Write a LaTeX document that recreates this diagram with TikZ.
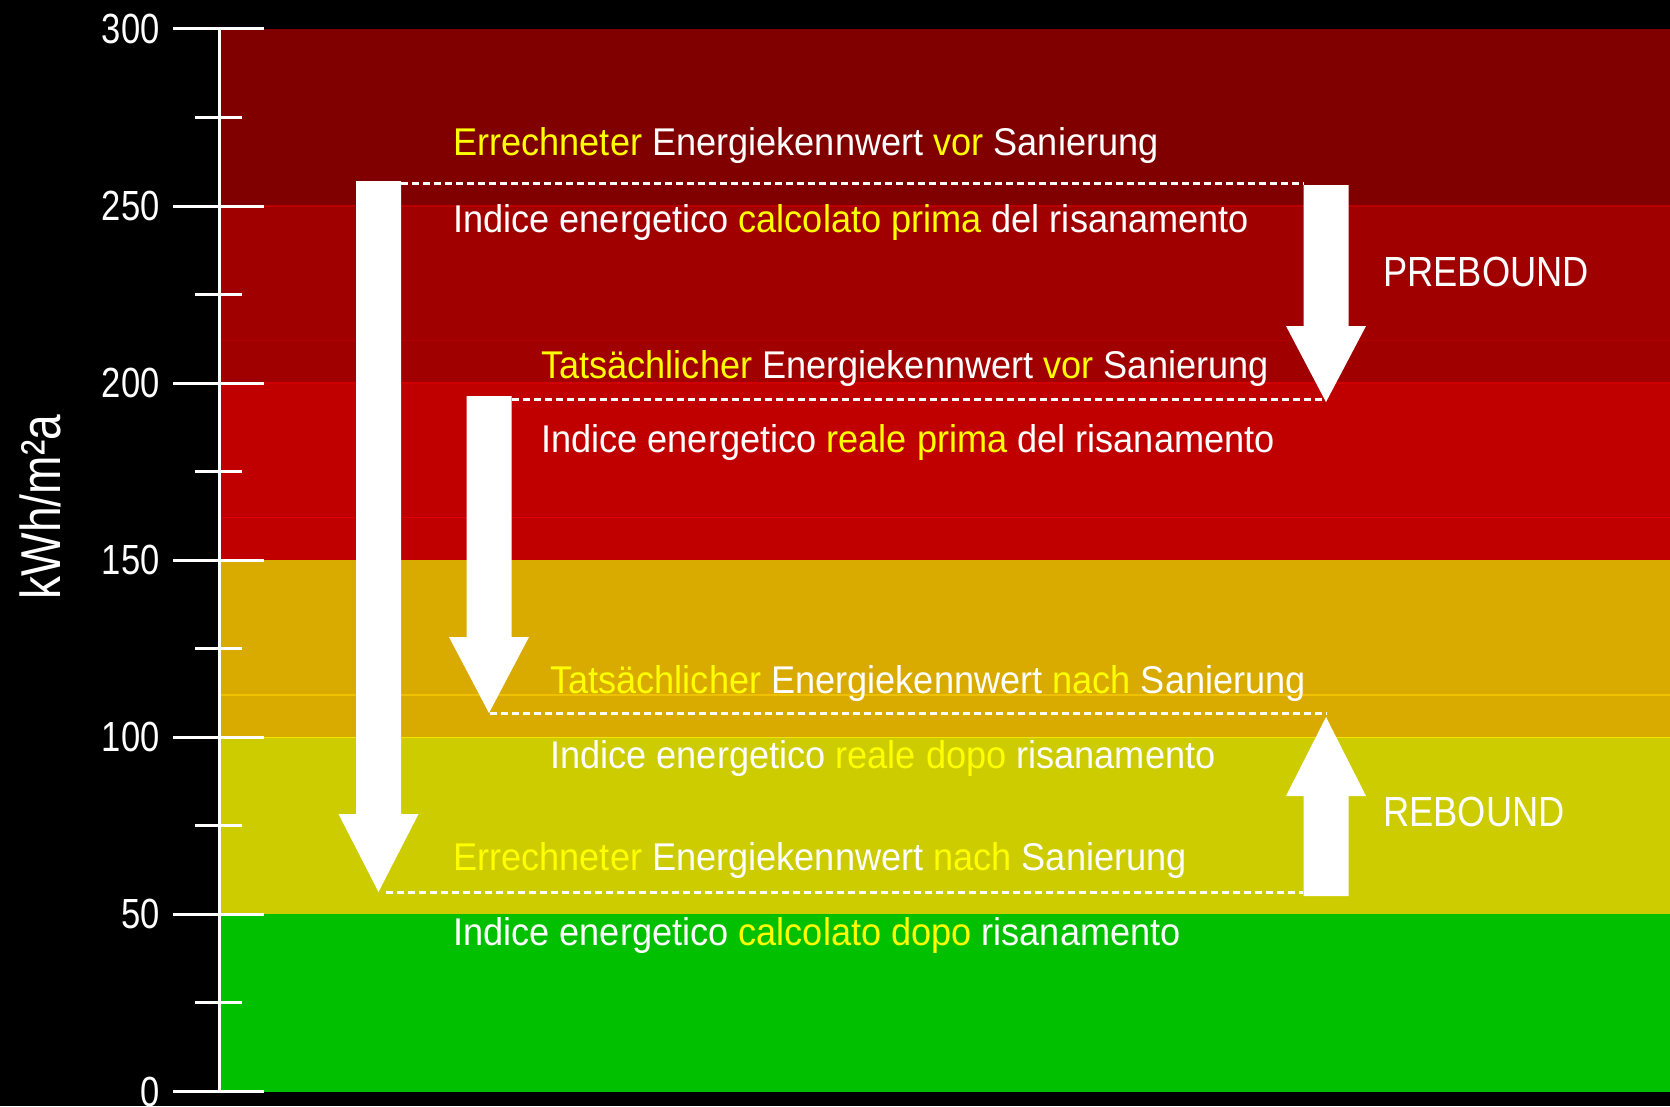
\documentclass[tikz,border=0pt]{standalone}
\usepackage{fontspec}
\setmainfont{Liberation Sans}[FakeStretch=0.935]
\newfontfamily\narrowfont{Liberation Sans}[FakeStretch=0.82]
\newfontfamily\labelfont{Liberation Sans}[FakeStretch=0.86]
\usetikzlibrary{calc}

\definecolor{band0}{RGB}{0,192,0}
\definecolor{band1}{RGB}{204,204,0}
\definecolor{band2}{RGB}{217,170,0}
\definecolor{band3}{RGB}{192,0,0}
\definecolor{band4}{RGB}{160,0,0}
\definecolor{band5}{RGB}{128,0,0}
\definecolor{hilite}{RGB}{255,255,0}

\newcommand{\yel}[1]{\textcolor{hilite}{#1}}
\newcommand{\kwh}[1]{1091.5-3.542*(#1)}
\newcommand{\blockarrow}[4]{%
  \fill[white] ({#1-22.5},#2) -- ({#1+22.5},#2) -- ({#1+22.5},#3) -- ({#1+40},#3)
    -- (#1,#4) -- ({#1-40},#3) -- ({#1-22.5},#3) -- cycle;}

\begin{document}
\begin{tikzpicture}[
    x=0.02cm, y=-0.02cm,
    txt/.style={anchor=base west, inner sep=0pt, text=white, font=\fontsize{22}{26}\selectfont},
    bound/.style={anchor=base west, inner sep=0pt, text=white, font=\labelfont\fontsize{24}{28}\selectfont},
    ticklabel/.style={anchor=east, inner sep=0pt, text=white, font=\narrowfont\fontsize{24}{28}\selectfont},
    level/.style={draw=white, line width=0.06cm, dash pattern=on 0.14cm off 0.08cm},
    tick/.style={draw=white, line width=0.06cm}
  ]
    \fill[black] (0,0) rectangle (1670,1106);
    \useasboundingbox (0,0) rectangle (1670,1106);
    \clip (0,0) rectangle (1670,1106);

    \foreach \v/\c in {0/band0, 50/band1, 100/band2, 150/band3, 200/band4, 250/band5}
      \fill[\c] (219,{\kwh{\v}}) rectangle (1670,{\kwh{\v+50}});
    \foreach \v/\c in {250/{rgb,255:red,184;green,0;blue,0}, 212/{rgb,255:red,178;green,0;blue,0},
                       200/{rgb,255:red,208;green,0;blue,0}, 162/{rgb,255:red,224;green,0;blue,0},
                       112/{rgb,255:red,238;green,192;blue,0}, 100/{rgb,255:red,240;green,230;blue,0}}
      \draw[color=\c, line width=0.03cm] (219,{\kwh{\v}}) -- (1670,{\kwh{\v}});

    \draw[tick] (219,{\kwh{300}}) -- (219,{\kwh{0}});
    \foreach \v in {0,50,...,300} {
      \draw[tick] (173,{\kwh{\v}}) -- (264,{\kwh{\v}});
      \node[ticklabel] (t\v) at (160,{\kwh{\v}}) {\v};
    }
    \foreach \v in {25,75,...,275}
      \draw[tick] (195,{\kwh{\v}}) -- (242,{\kwh{\v}});
    \node[rotate=90, anchor=base, inner sep=0pt, text=white, font=\narrowfont\fontsize{32}{36}\selectfont] (unit) at (60,507) {kWh/m²a};

    \blockarrow{378.5}{181}{814}{892}
    \blockarrow{489}{396}{637}{713}
    \blockarrow{1326}{185}{326}{402}
    \blockarrow{1326}{896}{796}{717}

    \coordinate (calcPreL) at (401,183);
    \coordinate (calcPreR) at (1304,183);
    \coordinate (realPreL) at (512,399);
    \coordinate (realPreR) at (1326,399);
    \coordinate (realPostL) at (490,713);
    \coordinate (realPostR) at (1326,713);
    \coordinate (calcPostL) at (386,892);
    \coordinate (calcPostR) at (1303,892);
    \draw[level] (calcPreL) -- (calcPreR);
    \draw[level] (realPreL) -- (realPreR);
    \draw[level] (realPostL) -- (realPostR);
    \draw[level] (calcPostL) -- (calcPostR);

    \node[txt] (deCalcPre) at (453,155) {\yel{Errechneter} Energiekennwert \yel{vor} Sanierung};
    \node[txt] (itCalcPre) at (453,232) {Indice energetico \yel{calcolato prima} del risanamento};
    \node[txt] (deRealPre) at (541,378) {\yel{Tatsächlicher} Energiekennwert \yel{vor} Sanierung};
    \node[txt] (itRealPre) at (541,452) {Indice energetico \yel{reale prima} del risanamento};
    \node[txt] (deRealPost) at (550,693) {\yel{Tatsächlicher} Energiekennwert \yel{nach} Sanierung};
    \node[txt] (itRealPost) at (550,768) {Indice energetico \yel{reale dopo} risanamento};
    \node[txt] (deCalcPost) at (453,870) {\yel{Errechneter} Energiekennwert \yel{nach} Sanierung};
    \node[txt] (itCalcPost) at (453,945) {Indice energetico \yel{calcolato dopo} risanamento};

    \node[bound] (prebound) at (1383,286) {PREBOUND};
    \node[bound] (rebound) at (1383,826) {REBOUND};
  \end{tikzpicture}
\end{document}
